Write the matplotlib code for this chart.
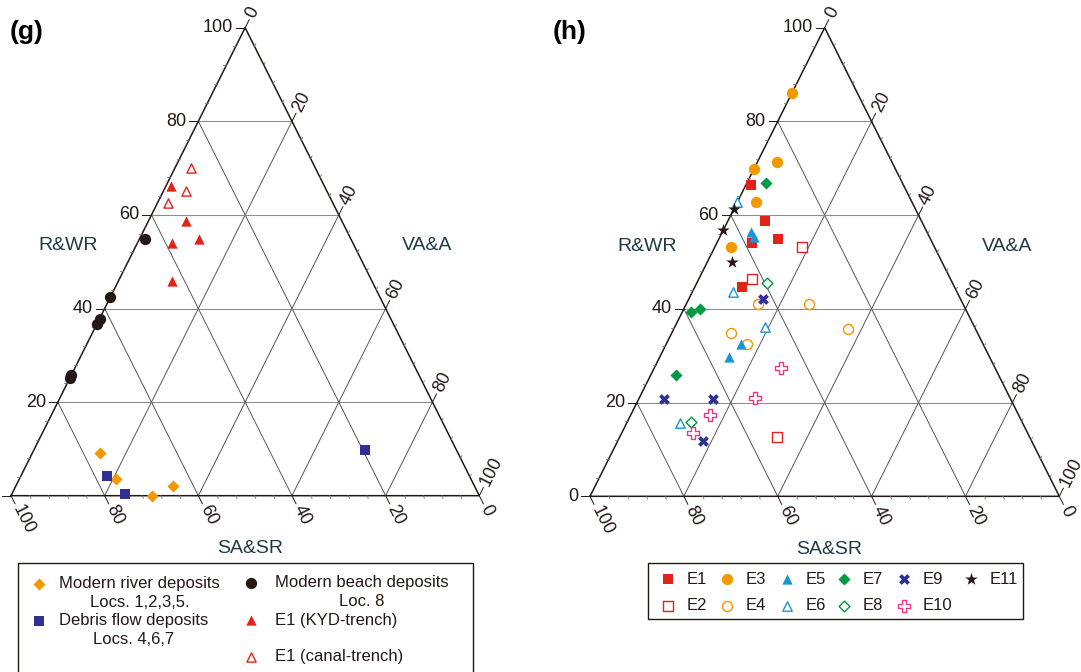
import numpy as np
import matplotlib.pyplot as plt
from matplotlib.patches import Rectangle

plt.rcParams['font.family'] = ['Liberation Sans', 'DejaVu Sans']

INK = '#231815'
TITLE = '#1e3a44'
RED = '#e2231a'
ORANGE = '#f39800'
NAVY = '#2e3192'
CYAN = '#1b95d3'
GREEN = '#009944'
PINK = '#e8388a'

# compositions in %: R&WR and VA&A, SA&SR is the remainder to 100
river_r = [9.1, 3.5, 0.0, 2.1]
river_v = [14.5, 20.6, 30.2, 33.6]
debris_r = [4.2, 0.4, 9.8]
debris_v = [18.4, 24.1, 70.6]
beach_r = [54.9, 42.4, 37.8, 36.7, 25.8, 25.1]
beach_v = [1.1, 0.0, 0.0, 0.0, 0.0, 0.0]
kyd_r = [66.2, 58.6, 54.9, 53.9, 45.9]
kyd_v = [1.1, 8.1, 12.8, 7.5, 11.5]
canal_r = [70.0, 65.1, 62.6]
canal_v = [3.4, 4.8, 2.3]

e1_r = [66.4, 58.7, 55.0, 54.0, 44.6]
e1_v = [1.0, 8.0, 12.6, 7.5, 10.0]
e2_r = [53.3, 46.3, 12.7]
e2_v = [18.6, 11.3, 33.6]
e3_r = [86.1, 69.9, 71.3, 62.8, 53.3]
e3_v = [0.0, 0.0, 4.2, 3.9, 3.5]
e4_r = [41.0, 41.0, 35.6, 34.9, 32.6]
e4_v = [15.2, 26.1, 37.1, 12.7, 17.2]
e5_r = [56.5, 55.3, 32.4, 29.8]
e5_v = [6.1, 7.4, 15.9, 14.7]
e6_r = [62.7, 43.7, 36.1, 15.7]
e6_v = [0.0, 8.6, 19.2, 11.3]
e7_r = [66.9, 39.4, 40.0, 25.8]
e7_v = [4.1, 1.8, 3.4, 5.4]
e8_r = [45.6, 15.9]
e8_v = [15.0, 13.5]
e9_r = [42.1, 20.7, 20.7, 11.8]
e9_v = [15.8, 5.5, 15.9, 18.1]
e10_r = [27.3, 20.9, 17.4, 13.5]
e10_v = [27.0, 24.8, 16.8, 15.1]
e11_r = [61.3, 56.8, 49.9]
e11_v = [0.0, 0.0, 5.4]

W, H = 1081, 672
K = 100 / 468          # data units per pixel
U = np.array([0.4472, 0.8944])


def tern_xy(r, v):
    r = np.asarray(r, dtype=float)
    v = np.asarray(v, dtype=float)
    return v + r / 2, r


def filled(marker, color, s):
    return dict(marker=marker, s=s, c=color, linewidths=0)


def hollow(marker, color, s):
    return dict(marker=marker, s=s, facecolors='white', edgecolors=color, linewidths=1.0)


def draw_frame(ax):
    ax.set_xlim(0, 100)
    ax.set_ylim(0, 100)
    ax.axis('off')
    for k in range(20, 100, 20):
        ax.plot([k / 2, 100 - k / 2], [k, k], color='#8c8c8c', lw=0.75, zorder=1)
        ax.plot(*tern_xy([0, 100 - k], [k, k]), color='#555555', lw=0.7, zorder=1)
        ax.plot(*tern_xy([0, 100 - k], [100 - k, 0]), color='#555555', lw=0.7, zorder=1)
    ax.plot([0, 100, 50, 0], [0, 0, 100, 0], color=INK, lw=1.1, zorder=2,
            clip_on=False, solid_joinstyle='miter')

    lab = dict(fontsize=13, color=INK, clip_on=False)
    for val in range(0, 101, 4):
        major = val % 20 == 0
        L = (9 if major else 3) * K
        g = 12 * K
        tk = dict(color=INK if major else '#777777', lw=0.7 if major else 0.6,
                  clip_on=False, zorder=2)
        # R&WR, left edge
        x0, y0 = val / 2, val
        ax.plot([x0, x0 - L], [y0, y0], **tk)
        if major:
            ax.text(x0 - g, y0, str(val), ha='right', va='center', **lab)
        # VA&A, right edge
        x0, y0 = 50 + val / 2, 100 - val
        ax.plot([x0, x0 + L * U[0]], [y0, y0 + L * U[1]], **tk)
        if major:
            ax.text(x0 + g * U[0], y0 + g * U[1], str(val), rotation=63.43,
                    rotation_mode='anchor', ha='left', va='center', **lab)
        # SA&SR, bottom edge
        x0, y0 = 100 - val, 0
        ax.plot([x0, x0 + L * U[0]], [y0, y0 - L * U[1]], **tk)
        if major:
            ax.text(x0 + g * U[0], y0 - g * U[1], str(val), rotation=-63.43,
                    rotation_mode='anchor', ha='left', va='center', **lab)

    tt = dict(fontsize=14, color=TITLE, ha='center', va='center', clip_on=False)
    ax.text(12.2, 53.4, 'R&WR', **tt)
    ax.text(88.8, 53.4, 'VA&A', **tt)
    ax.text(51.0, -11.3, 'SA&SR', **tt)


fig = plt.figure(figsize=(W / 100, H / 100), dpi=100)

# overlay in pixel units for the legend boxes
lax = fig.add_axes([0, 0, 1, 1])
lax.set_xlim(0, W)
lax.set_ylim(H, 0)
lax.axis('off')

ax_g = fig.add_axes([11 / W, 1 - 495.7 / H, 468.3 / W, 468 / H])
ax_h = fig.add_axes([590 / W, 1 - 496.3 / H, 469.3 / W, 468.6 / H])
draw_frame(ax_g)
draw_frame(ax_h)

# panel (g)
left_series = [
    (river_r, river_v, filled('D', ORANGE, 38)),
    (debris_r, debris_v, filled('s', NAVY, 55)),
    (beach_r, beach_v, filled('o', INK, 66)),
    (kyd_r, kyd_v, filled('^', RED, 55)),
    (canal_r, canal_v, hollow('^', RED, 44)),
]
for r, v, st in left_series:
    ax_g.scatter(*tern_xy(r, v), zorder=3, clip_on=False, **st)

# panel (h)
right_series = [
    ('E1', e1_r, e1_v, filled('s', RED, 55)),
    ('E2', e2_r, e2_v, hollow('s', RED, 46)),
    ('E3', e3_r, e3_v, filled('o', ORANGE, 66)),
    ('E4', e4_r, e4_v, hollow('o', ORANGE, 52)),
    ('E5', e5_r, e5_v, filled('^', CYAN, 55)),
    ('E6', e6_r, e6_v, hollow('^', CYAN, 46)),
    ('E7', e7_r, e7_v, filled('D', GREEN, 38)),
    ('E8', e8_r, e8_v, hollow('D', GREEN, 30)),
    ('E9', e9_r, e9_v, filled('X', NAVY, 60)),
    ('E10', e10_r, e10_v, hollow('P', PINK, 66)),
    ('E11', e11_r, e11_v, filled('*', INK, 90)),
]
for name, r, v, st in right_series:
    ax_h.scatter(*tern_xy(r, v), zorder=3, clip_on=False, **st)

fig.text(10 / W, 1 - 32 / H, '(g)', fontsize=19, fontweight='bold', ha='left', va='center')
fig.text(553 / W, 1 - 32 / H, '(h)', fontsize=19, fontweight='bold', ha='left', va='center')

# legend of panel (g)
lax.add_patch(Rectangle((18, 563), 455, 140, fill=False, ec=INK, lw=1.0))
g_entries = [
    (39, 584, 59, 'Modern river deposits\nLocs. 1,2,3,5.', left_series[0][2]),
    (39, 621, 59, 'Debris flow deposits\nLocs. 4,6,7', left_series[1][2]),
    (251, 583, 275, 'Modern beach deposits\nLoc. 8', left_series[2][2]),
    (251, 620, 275, 'E1 (KYD-trench)', left_series[3][2]),
    (251, 657, 275, 'E1 (canal-trench)', left_series[4][2]),
]
for mx, my, tx, label, st in g_entries:
    lax.scatter([mx], [my], **st)
    if '\n' in label:
        lax.text(tx, my - 8, label, fontsize=12, color=INK, ha='left', va='top',
                 multialignment='center', linespacing=1.3)
    else:
        lax.text(tx, my, label, fontsize=12, color=INK, ha='left', va='center')

# legend of panel (h)
lax.add_patch(Rectangle((648, 563), 375, 56, fill=False, ec=INK, lw=1.0))
col_x = [668, 727, 787, 844, 904, 971]
row_y = [579, 606]
for i, (name, r, v, st) in enumerate(right_series):
    mx, my = col_x[i // 2], row_y[i % 2]
    lax.scatter([mx], [my], **st)
    lax.text(mx + 19, my, name, fontsize=12, color=INK, ha='left', va='center')

fig.savefig('out.png', dpi=100)
